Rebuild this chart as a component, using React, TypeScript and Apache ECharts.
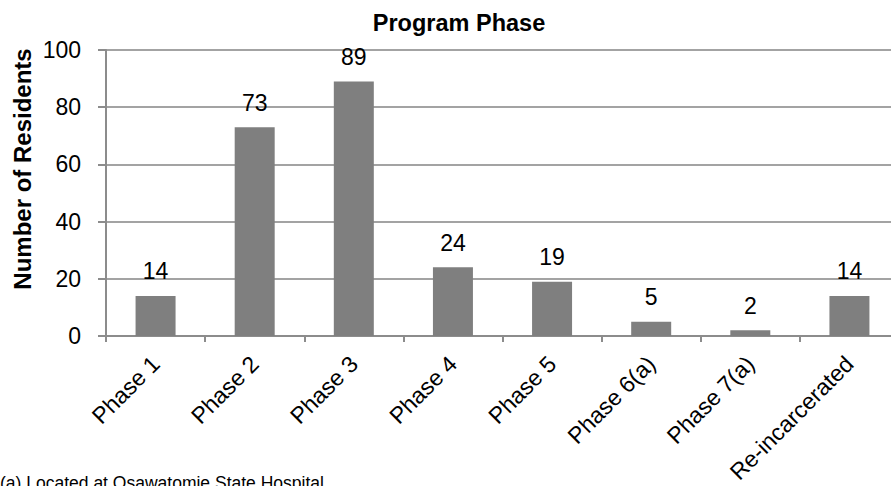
import React, { useEffect, useRef } from "react";
import * as echarts from "echarts";

const categories = ["Phase 1", "Phase 2", "Phase 3", "Phase 4", "Phase 5", "Phase 6(a)", "Phase 7(a)", "Re-incarcerated"];
const residents = [14, 73, 89, 24, 19, 5, 2, 14];
const yTicks = [0, 20, 40, 60, 80, 100];
const titleText = "Program Phase";
const yAxisTitle = "Number of Residents";
const footnote = "(a) Located at Osawatomie State Hospital";

const FONT = "Liberation Sans, Arial, sans-serif";

export default function App() {
  const ref = useRef<HTMLDivElement>(null);
  useEffect(() => {
    if (!ref.current) return;
    const chart = echarts.init(ref.current, null, { renderer: "svg" });
    chart.setOption({
      animation: false,
      backgroundColor: "#ffffff",
      textStyle: { fontFamily: FONT },
      grid: { left: 106, top: 50, width: 793, height: 286, containLabel: false, outerBoundsMode: "none" },
      xAxis: {
        type: "category",
        data: categories,
        boundaryGap: true,
        axisLine: { show: true, lineStyle: { color: "#8c8c8c", width: 2 } },
        axisTick: { show: true, alignWithLabel: false, length: 6, lineStyle: { color: "#8c8c8c", width: 2 } },
        axisLabel: { rotate: 45, margin: 24, fontSize: 23, color: "#000", fontFamily: FONT, interval: 0 },
      },
      yAxis: {
        type: "value",
        min: yTicks[0],
        max: yTicks[yTicks.length - 1],
        interval: 20,
        axisLine: { show: true, lineStyle: { color: "#8c8c8c", width: 2 } },
        axisTick: { show: true, length: 8, lineStyle: { color: "#8c8c8c", width: 2 } },
        axisLabel: { fontSize: 23, color: "#000", margin: 25, fontFamily: FONT },
        splitLine: { show: true, lineStyle: { color: "#a3a3a3", width: 2 } },
      },
      series: [
        {
          type: "bar",
          data: residents,
          barWidth: 40,
          itemStyle: { color: "#7f7f7f" },
          label: { show: true, position: "top", distance: 13, fontSize: 23, color: "#000", fontFamily: FONT },
        },
      ],
      graphic: [
        {
          type: "text",
          x: 459,
          y: 23,
          style: { text: titleText, font: `bold 23.5px ${FONT}`, fill: "#000", textAlign: "center", textVerticalAlign: "middle" },
        },
        {
          type: "text",
          x: 22,
          y: 169,
          rotation: Math.PI / 2,
          style: { text: yAxisTitle, font: `bold 24px ${FONT}`, fill: "#000", textAlign: "center", textVerticalAlign: "middle" },
        },
        {
          type: "text",
          x: 0,
          y: 483,
          style: { text: footnote, font: `17.5px ${FONT}`, fill: "#000", textAlign: "left", textVerticalAlign: "middle" },
        },
      ],
    });
    return () => chart.dispose();
  }, []);
  return <div ref={ref} style={{ position: "fixed", left: 0, top: 0, width: 891, height: 486 }} />;
}
